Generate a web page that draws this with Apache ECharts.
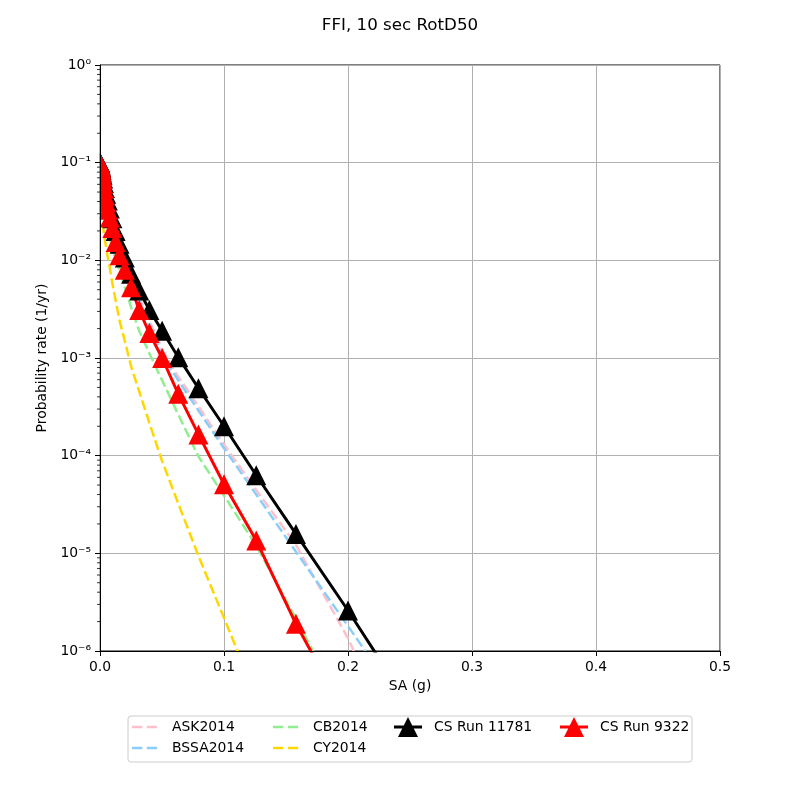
<!DOCTYPE html>
<html><head><meta charset="utf-8">
<script src="https://cdn.jsdelivr.net/npm/echarts@6/dist/echarts.min.js"></script>
<style>html,body{margin:0;padding:0;background:#fff}#c{width:800px;height:800px}</style>
</head><body><div id="c"></div>
<script>
const SA = [0.0001, 0.000126, 0.000158, 0.0002, 0.000251, 0.000316, 0.000398, 0.000501, 0.000631, 0.000794,
  0.001, 0.00126, 0.00158, 0.002, 0.00251, 0.00316, 0.00398, 0.00501, 0.00631, 0.00794,
  0.01, 0.0126, 0.0158, 0.02, 0.0251, 0.0316, 0.0398, 0.0501, 0.0631, 0.0794,
  0.1, 0.126, 0.158, 0.2, 0.251];
const ASK2014 = [0.099,0.098,0.097,0.096,0.095,0.094,0.093,0.091,0.089,0.087,
  0.084,0.081,0.077,0.072,0.065,0.058,0.050,0.043,0.036,0.030,
  0.0235,0.0175,0.0127,0.0089,0.0064,0.0042,0.0024,0.00121,0.000645,0.00032,
  0.00013,0.0000445,0.0000122,0.00000135,5e-8];
const BSSA2014 = [0.099,0.098,0.097,0.096,0.095,0.094,0.092,0.090,0.088,0.086,
  0.083,0.080,0.076,0.071,0.064,0.057,0.049,0.042,0.035,0.029,
  0.0228,0.0168,0.0122,0.0086,0.0061,0.0039,0.0022,0.00107,0.00059,0.00029,
  0.000119,0.00004,0.0000104,0.0000018,2.1e-7];
const CB2014 = [0.098,0.097,0.096,0.095,0.093,0.091,0.089,0.086,0.082,0.077,
  0.072,0.066,0.059,0.052,0.045,0.038,0.031,0.026,0.021,0.0168,
  0.0130,0.0103,0.0079,0.0053,0.0033,0.0019,0.00112,0.00059,0.000264,0.000098,
  0.000039,0.000012,0.00000215,2.1e-7,5e-9];
const CY2014 = [0.090,0.087,0.084,0.080,0.076,0.071,0.066,0.060,0.054,0.047,
  0.041,0.035,0.030,0.026,0.022,0.019,0.0160,0.0133,0.0107,0.0083,
  0.0058,0.0039,0.0024,0.0015,0.00082,0.000456,0.000217,0.000088,0.0000324,0.0000094,
  0.00000218,3.4e-7,4e-8,1e-9,1e-10];
const CS_RUN_11781 = [0.100,0.099,0.098,0.097,0.096,0.095,0.094,0.093,0.091,0.089,
  0.087,0.084,0.080,0.075,0.069,0.062,0.055,0.048,0.041,0.034,
  0.027,0.020,0.0148,0.0107,0.0073,0.0049,0.0031,0.0019,0.00102,0.00049,
  0.000200,0.000063,0.0000158,0.0000026,2.6e-7];
const CS_RUN_9322 = [0.098,0.097,0.096,0.095,0.094,0.093,0.092,0.090,0.088,0.086,
  0.083,0.079,0.074,0.068,0.061,0.054,0.046,0.039,0.033,0.0275,
  0.0214,0.0154,0.0113,0.0080,0.0053,0.0031,0.0018,0.00100,0.00043,0.000165,
  0.000051,0.0000135,0.0000019,2e-7,1e-8];
const X_TICK_LABELS = ['0.0','0.1','0.2','0.3','0.4','0.5'];
const Y_TICK_LABELS = ['10\u207B\u2076','10\u207B\u2075','10\u207B\u2074','10\u207B\u00B3','10\u207B\u00B2','10\u207B\u00B9','10\u2070'];
const Y_MINOR_MULT = [2,3,4,5,6,7,8,9];
const Y_MINOR_DECADES = [-6,-5,-4,-3,-2,-1];

const FONT = 'DejaVu Sans';
const FS = 13.9;
const DASH_ICON = 'path://M0,5.7h10.3v2.6h-10.3z M14.8,5.7h10.3v2.6h-10.3z M0,0h0.01v0.01h-0.01z M27.99,13.99h0.01v0.01h-0.01z';
const TRI_ICON = 'path://M0,8.5h28v3h-28z M14,0L24,20L4,20z';

const pair = ys => SA.map((x,i)=>[x, ys[i]]);
const dashed = (name, color, ys) => ({name, type:'line', data:pair(ys), symbol:'none', showSymbol:false,
  lineStyle:{color, width:2.5, type:[10,4]}, itemStyle:{color}, z:2, clip:true, silent:true, xAxisIndex:0, yAxisIndex:0});
const cs = (name, color, ys) => ({name, type:'line', data:pair(ys), symbol:'triangle', symbolSize:20, showSymbol:true, showAllSymbol:true,
  lineStyle:{color, width:3}, itemStyle:{color}, z:3, clip:true, silent:true, xAxisIndex:0, yAxisIndex:0});
const minorVals = [];
Y_MINOR_DECADES.forEach(e => Y_MINOR_MULT.forEach(m => minorVals.push(m*Math.pow(10,e))));

const xFmt = v => { const i = Math.round(v*10); return X_TICK_LABELS[i] !== undefined ? X_TICK_LABELS[i] : ''; };
const yFmt = v => { const i = Math.round(Math.log10(v)) + 6; return Y_TICK_LABELS[i] !== undefined ? Y_TICK_LABELS[i] : ''; };

const legendBase = {orient:'vertical', itemWidth:28, itemHeight:14, itemGap:7, padding:0, selectedMode:false, z:6,
  textStyle:{fontFamily:FONT, fontSize:FS, color:'#000', padding:[0,0,0,7]}};

const chart = echarts.init(document.getElementById('c'), null, {renderer:'canvas'});
chart.setOption({
  animation:false,
  backgroundColor:'#fff',
  textStyle:{fontFamily:FONT},
  title:{text:'FFI, 10 sec RotD50', left:'center', top:12, textStyle:{fontFamily:FONT, fontSize:16.7, fontWeight:'normal', color:'#000'}},
  grid:{left:100, right:80, top:65, bottom:149, show:true, borderColor:'#000', borderWidth:1, backgroundColor:'transparent'},
  xAxis:[
    {type:'value', min:0, max:0.5, interval:0.1, position:'bottom', z:0,
      axisLine:{show:false}, axisTick:{show:false}, axisLabel:{show:false},
      splitLine:{show:true, lineStyle:{color:'#b0b0b0', width:1}}},
    {type:'value', min:0, max:0.5, interval:0.1, position:'bottom', z:10,
      name:'SA (g)', nameLocation:'middle', nameGap:28, nameTextStyle:{fontFamily:FONT, fontSize:FS, color:'#000'},
      axisLine:{show:true, lineStyle:{color:'#000', width:1}}, axisTick:{show:true, inside:false, length:5, lineStyle:{color:'#000', width:1}},
      axisLabel:{show:true, margin:9, formatter:xFmt, fontFamily:FONT, fontSize:FS, color:'#000'},
      splitLine:{show:false}}
  ],
  yAxis:[
    {type:'log', logBase:10, min:1e-6, max:1, interval:1, splitNumber:6, position:'left', z:0,
      axisLine:{show:false}, axisTick:{show:false}, axisLabel:{show:false}, minorTick:{show:false},
      splitLine:{show:true, lineStyle:{color:'#b0b0b0', width:1}}},
    {type:'log', logBase:10, min:1e-6, max:1, interval:1, splitNumber:6, position:'left', z:10,
      name:'Probability rate (1/yr)', nameLocation:'middle', nameGap:50, nameTextStyle:{fontFamily:FONT, fontSize:FS, color:'#000'},
      axisLine:{show:true, lineStyle:{color:'#000', width:1}}, axisTick:{show:true, inside:false, length:5, lineStyle:{color:'#000', width:1}},
      axisLabel:{show:true, margin:9, formatter:yFmt, fontFamily:FONT, fontSize:FS, color:'#000'},
      splitLine:{show:false}}
  ],
  legend:[
    Object.assign({}, legendBase, {left:132, top:720, data:[{name:'ASK2014', icon:DASH_ICON},{name:'BSSA2014', icon:DASH_ICON}]}),
    Object.assign({}, legendBase, {left:273, top:720, data:[{name:'CB2014', icon:DASH_ICON},{name:'CY2014', icon:DASH_ICON}]}),
    Object.assign({}, legendBase, {left:394, top:717, itemHeight:20, data:[{name:'CS Run 11781', icon:TRI_ICON}]}),
    Object.assign({}, legendBase, {left:560, top:717, itemHeight:20, data:[{name:'CS Run 9322', icon:TRI_ICON}]})
  ],
  graphic:[
    {type:'rect', z:5, silent:true, shape:{x:60, y:58, width:39.5, height:600}, style:{fill:'#fff'}},
    {type:'rect', z:3, silent:true, shape:{x:128, y:716, width:564, height:46, r:3}, style:{fill:'#fff', stroke:'#cccccc', lineWidth:1}}
  ],
  series:[
    dashed('ASK2014', '#FFC0CB', ASK2014),
    dashed('BSSA2014', '#87CEFA', BSSA2014),
    dashed('CB2014', '#90EE90', CB2014),
    dashed('CY2014', '#FFD700', CY2014),
    cs('CS Run 11781', '#000000', CS_RUN_11781),
    cs('CS Run 9322', '#FF0000', CS_RUN_9322),
    {type:'custom', coordinateSystem:'cartesian2d', xAxisIndex:0, yAxisIndex:0, clip:false, z:12, silent:true,
      data: minorVals.map(v => [0, v]), encode:{x:0, y:1},
      renderItem:(params, api) => {
        const p = api.coord([0, api.value(1)]);
        return {type:'line', shape:{x1:p[0]-3, y1:p[1], x2:p[0], y2:p[1]}, style:{stroke:'#000', lineWidth:0.8}};
      }}
  ]
});
</script></body></html>
